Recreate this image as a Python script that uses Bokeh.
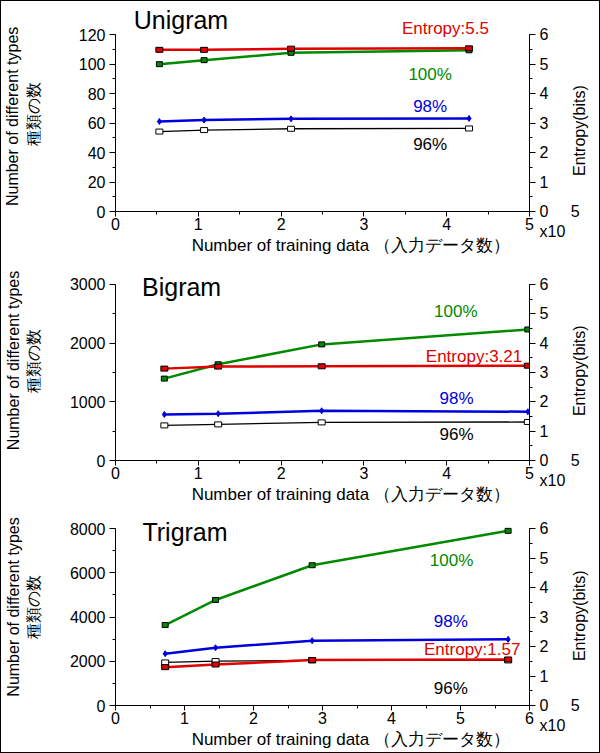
import math
from bokeh.plotting import figure
from bokeh.models import Range1d, LinearAxis, SingleIntervalTicker, Label
from bokeh.layouts import column
from bokeh.embed import file_html
from bokeh.resources import INLINE

# ---------------- data (x in units of 10^5 training items) ----------------
uni_x = [0.53, 1.07, 2.12, 4.27]
uni_100 = [99.9, 102.6, 107.6, 109.3]
uni_98 = [61.0, 62.0, 62.8, 63.1]
uni_96 = [54.2, 55.2, 56.1, 56.3]
uni_entropy = [5.48, 5.48, 5.52, 5.53]

bi_x = [0.59, 1.24, 2.49, 4.98]
bi_100 = [1395, 1639, 1978, 2232]
bi_98 = [785, 797, 847, 831]
bi_96 = [598, 615, 649, 656]
bi_entropy = [3.13, 3.20, 3.21, 3.23]

tri_x = [0.72, 1.45, 2.85, 5.69]
tri_100 = [3638, 4770, 6340, 7894]
tri_98 = [2340, 2611, 2928, 2989]
tri_96 = [1947, 2008, 2038, 2038]
tri_entropy = [1.30, 1.39, 1.54, 1.56]

titles = ["Unigram", "Bigram", "Trigram"]
entropy_labels = ["Entropy:5.5", "Entropy:3.21", "Entropy:1.57"]
series_labels = ["100%", "98%", "96%"]
x_label = "Number of  training data （入力データ数）"
y_label_lines = ["Number of different types", "種類の数"]
y2_label = "Entropy(bits)"
# scale note "x10^5" written beside the 0 of the entropy axis
zero_label = "\n0" + "\u00a0" * 5 + "5\nx10"

FONT = "Liberation Sans"
RED, GREEN, BLUE, BLACK = "#e00000", "#008a00", "#0000dd", "#000000"
NBSP = "\u00a0"

AXIS_PX = 177  # pixel length of the drawn y axes
panels = [
    dict(title=titles[0], x=uni_x, s100=uni_100, s98=uni_98, s96=uni_96, ent=uni_entropy,
         ent_text=entropy_labels[0], xmax=5, ymax=120, yint=20,
         height=257, top=2, bottom=47, frame_px=208, ylab_standoff=34, y2_pad=8,
         ylab_pad=(4, 3),
         title_pos=(0.22, 130.1), ent_pos=(3.985, 6.196), p100=(3.80, 93.0),
         p98=(3.80, 71.3), p96=(3.80, 45.3)),
    dict(title=titles[1], x=bi_x, s100=bi_100, s98=bi_98, s96=bi_96, ent=bi_entropy,
         ent_text=entropy_labels[1], xmax=5, ymax=3000, yint=1000,
         height=248, top=2, bottom=45, frame_px=201, ylab_standoff=25, y2_pad=10,
         ylab_pad=(0, 0),
         title_pos=(0.32, 2950), ent_pos=(4.33, 3.556), p100=(4.11, 2534),
         p98=(4.12, 1059), p96=(4.12, 449)),
    dict(title=titles[2], x=tri_x, s100=tri_100, s98=tri_98, s96=tri_96, ent=tri_entropy,
         ent_text=entropy_labels[2], xmax=6, ymax=8000, yint=2000,
         height=246, top=2, bottom=47, frame_px=197, ylab_standoff=25, y2_pad=10,
         ylab_pad=(0, 0),
         title_pos=(0.39, 7835), ent_pos=(5.17, 1.886), p100=(4.87, 6558),
         p98=(4.86, 3795), p96=(4.86, 774)),
]


def style_axis(ax):
    ax.axis_line_color = "black"
    ax.major_tick_line_color = "black"
    ax.minor_tick_line_color = "black"
    ax.major_tick_in = 0
    ax.major_tick_out = 6
    ax.minor_tick_in = 0
    ax.minor_tick_out = 3
    ax.major_label_text_font = FONT
    ax.major_label_text_font_size = "16px"
    ax.major_label_text_color = "black"
    ax.major_label_standoff = 4
    ax.axis_label_text_font = FONT
    ax.axis_label_text_font_size = "16px"
    ax.axis_label_text_font_style = "normal"
    ax.axis_label_text_color = "black"


def set_label_align(ax, *choices):
    for v in choices:
        try:
            ax.axis_label_align = v
            return
        except Exception:
            pass


def label(p, pos, text, color, size, align="center", range_name="default"):
    p.add_layout(Label(x=pos[0], y=pos[1], text=text, text_color=color,
                       text_font=FONT, text_font_size=size, text_align=align,
                       text_baseline="alphabetic", y_range_name=range_name))


figs = []
for c in panels:
    yend = c["ymax"] * c["frame_px"] / AXIS_PX
    eend = 6 * c["frame_px"] / AXIS_PX
    pad1, pad2 = c["ylab_pad"]
    y_label = y_label_lines[0] + NBSP * pad1 + "\n" + y_label_lines[1] + NBSP * pad2
    p = figure(width=598, height=c["height"], output_backend="svg", toolbar_location=None,
               x_range=Range1d(0, c["xmax"]), y_range=Range1d(0, yend),
               min_border_left=114, min_border_right=69,
               min_border_top=c["top"], min_border_bottom=c["bottom"],
               x_axis_label=NBSP * 13 + x_label, y_axis_label=y_label)
    p.extra_y_ranges = {"entropy": Range1d(0, eend)}
    p.outline_line_color = None
    p.xgrid.visible = False
    p.ygrid.visible = False

    p.xaxis.ticker = SingleIntervalTicker(interval=1, num_minor_ticks=2)
    p.yaxis.ticker = SingleIntervalTicker(interval=c["yint"], num_minor_ticks=2)
    p.yaxis.bounds = (0, c["ymax"])
    right = LinearAxis(y_range_name="entropy", bounds=(0, 6),
                       axis_label=NBSP * c["y2_pad"] + y2_label,
                       ticker=SingleIntervalTicker(interval=1, num_minor_ticks=2))
    p.add_layout(right, "right")
    for ax in [p.xaxis[0], p.yaxis[0], right]:
        style_axis(ax)
    p.xaxis.major_tick_out = 5
    p.xaxis.major_label_standoff = 1
    p.xaxis.axis_label_standoff = 3
    p.xaxis.axis_label_text_font_size = "17px"
    p.yaxis[0].axis_label_standoff = c["ylab_standoff"]
    right.major_label_overrides = {0: zero_label}
    right.axis_label_standoff = -3
    right.axis_label_orientation = math.pi / 2
    set_label_align(right, "start", "left")

    # series
    p.line(c["x"], c["s96"], color=BLACK, line_width=1.3)
    p.rect(c["x"], c["s96"], width=7, height=5, width_units="screen", height_units="screen",
           fill_color="white", line_color=BLACK)
    p.line(c["x"], c["s98"], color=BLUE, line_width=2.5)
    p.scatter(c["x"], c["s98"], marker="diamond", size=6, fill_color=BLUE, line_color=BLUE)
    p.line(c["x"], c["s100"], color=GREEN, line_width=2.5)
    p.rect(c["x"], c["s100"], width=6, height=5, width_units="screen", height_units="screen",
           fill_color=GREEN, line_color=BLACK)
    p.line(c["x"], c["ent"], color=RED, line_width=2.5, y_range_name="entropy")
    p.rect(c["x"], c["ent"], width=7, height=5, width_units="screen", height_units="screen",
           fill_color=RED, line_color=BLACK, y_range_name="entropy")

    # texts
    label(p, c["title_pos"], c["title"], "black", "25px", align="left")
    label(p, c["ent_pos"], c["ent_text"], RED, "17px", range_name="entropy")
    label(p, c["p100"], series_labels[0], GREEN, "17px")
    label(p, c["p98"], series_labels[1], BLUE, "17px")
    label(p, c["p96"], series_labels[2], BLACK, "17px")
    figs.append(p)

layout = column(*figs, styles={"border": "1px solid black"})
open("out.html", "w").write(file_html(layout, INLINE))
